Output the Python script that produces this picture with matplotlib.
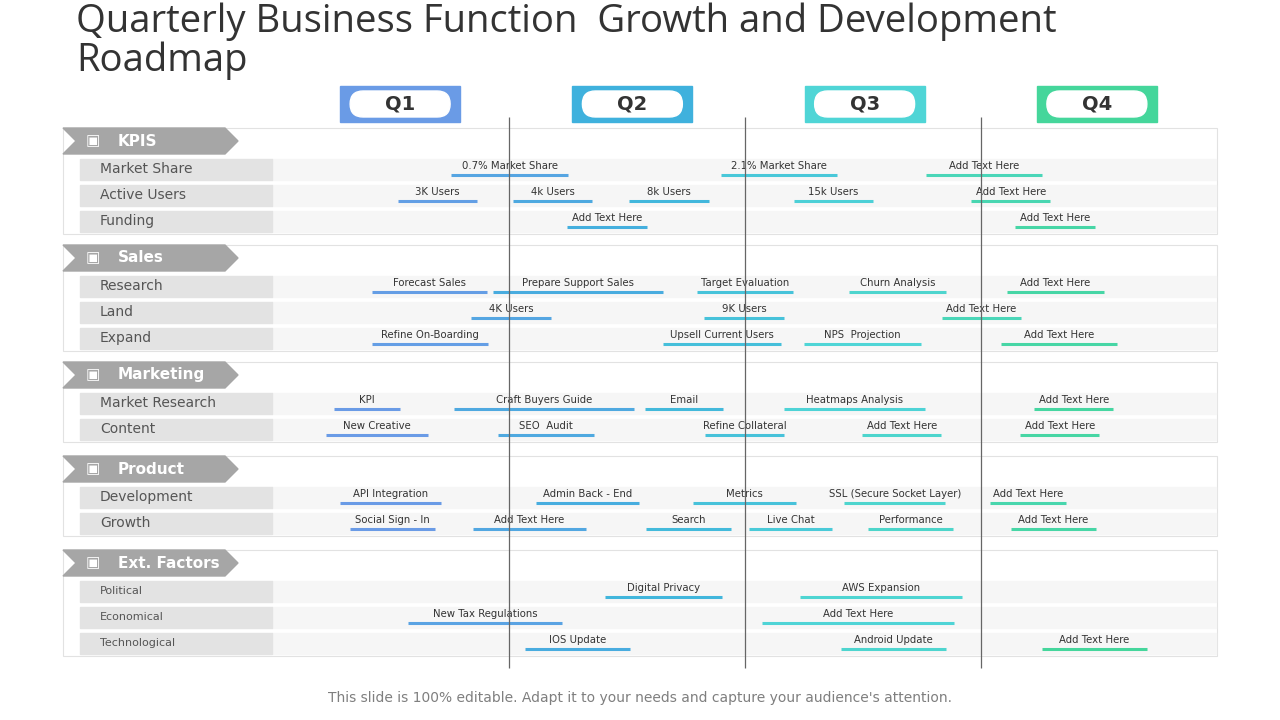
import matplotlib.pyplot as plt
from matplotlib.patches import Rectangle, FancyBboxPatch, Polygon
import numpy as np

# Timeline data: months from start of year (Q1 = 0..3, etc.)
quarters = ["Q1", "Q2", "Q3", "Q4"]
quarter_colors = ["#6a9be6", "#3fb1dd", "#4fd5d6", "#45d69b"]
quarter_dividers = [2.9, 5.95, 9.0]

sections = ["KPIS", "Sales", "Marketing", "Product", "Ext. Factors"]
section_rows = [
    ["Market Share", "Active Users", "Funding"],
    ["Research", "Land", "Expand"],
    ["Market Research", "Content"],
    ["Development", "Growth"],
    ["Political", "Economical", "Technological"],
]

# (row name, label, start month, end month)
kpi_tasks = [
    ("Market Share", "0.7% Market Share", 2.16, 3.67),
    ("Market Share", "2.1% Market Share", 5.65, 7.14),
    ("Market Share", "Add Text Here", 8.29, 9.79),
    ("Active Users", "3K Users", 1.47, 2.49),
    ("Active Users", "4k Users", 2.96, 3.98),
    ("Active Users", "8k Users", 4.46, 5.49),
    ("Active Users", "15k Users", 6.59, 7.61),
    ("Active Users", "Add Text Here", 8.88, 9.90),
    ("Funding", "Add Text Here", 3.66, 4.69),
    ("Funding", "Add Text Here", 9.44, 10.47),
]
sales_tasks = [
    ("Research", "Forecast Sales", 1.14, 2.62),
    ("Research", "Prepare Support Sales", 2.70, 4.90),
    ("Research", "Target Evaluation", 5.34, 6.58),
    ("Research", "Churn Analysis", 7.30, 8.55),
    ("Research", "Add Text Here", 9.34, 10.59),
    ("Land", "4K Users", 2.42, 3.45),
    ("Land", "9K Users", 5.43, 6.46),
    ("Land", "Add Text Here", 8.50, 9.52),
    ("Expand", "Refine On-Boarding", 1.14, 2.64),
    ("Expand", "Upsell Current Users", 4.90, 6.42),
    ("Expand", "NPS  Projection", 6.72, 8.23),
    ("Expand", "Add Text Here", 9.26, 10.76),
]
marketing_tasks = [
    ("Market Research", "KPI", 0.65, 1.50),
    ("Market Research", "Craft Buyers Guide", 2.20, 4.52),
    ("Market Research", "Email", 4.66, 5.67),
    ("Market Research", "Heatmaps Analysis", 6.46, 8.28),
    ("Market Research", "Add Text Here", 9.69, 10.71),
    ("Content", "New Creative", 0.54, 1.86),
    ("Content", "SEO  Audit", 2.76, 4.01),
    ("Content", "Refine Collateral", 5.44, 6.46),
    ("Content", "Add Text Here", 7.47, 8.49),
    ("Content", "Add Text Here", 9.51, 10.53),
]
product_tasks = [
    ("Development", "API Integration", 0.72, 2.03),
    ("Development", "Admin Back - End", 3.26, 4.59),
    ("Development", "Metrics", 5.28, 6.61),
    ("Development", "SSL (Secure Socket Layer)", 7.24, 8.54),
    ("Development", "Add Text Here", 9.12, 10.10),
    ("Growth", "Social Sign - In", 0.85, 1.95),
    ("Growth", "Add Text Here", 2.44, 3.90),
    ("Growth", "Search", 4.68, 5.78),
    ("Growth", "Live Chat", 6.01, 7.08),
    ("Growth", "Performance", 7.55, 8.64),
    ("Growth", "Add Text Here", 9.39, 10.49),
]
ext_tasks = [
    ("Political", "Digital Privacy", 4.15, 5.66),
    ("Political", "AWS Expansion", 6.67, 8.76),
    ("Economical", "New Tax Regulations", 1.60, 3.59),
    ("Economical", "Add Text Here", 6.18, 8.66),
    ("Technological", "IOS Update", 3.11, 4.47),
    ("Technological", "Android Update", 7.20, 8.55),
    ("Technological", "Add Text Here", 9.79, 11.15),
]
all_tasks = [kpi_tasks, sales_tasks, marketing_tasks, product_tasks, ext_tasks]

# layout (pixels)
section_top = [128, 245, 362, 456, 550]
row_gap = 26
TL_LEFT, TL_RIGHT = 284, 1213

fig = plt.figure(figsize=(12.8, 7.2), dpi=100)
ax = fig.add_axes([0, 0, 1, 1])
ax.set_xlim(0, 1280)
ax.set_ylim(720, 0)
ax.axis("off")

# timeline axes in months
tl = fig.add_axes([TL_LEFT / 1280, 0, (TL_RIGHT - TL_LEFT) / 1280, 1])
tl.set_xlim(0, 12)
tl.set_ylim(720, 0)
tl.axis("off")
tl.patch.set_alpha(0)


def bar_color(m):
    centers = [1.5, 4.5, 7.5, 10.5]
    rgb = np.array([[int(c[i:i + 2], 16) / 255 for i in (1, 3, 5)] for c in quarter_colors])
    return tuple(np.interp(m, centers, rgb[:, k]) for k in range(3))


ax.text(76, 22, "Quarterly Business Function  Growth and Development", fontsize=27.5,
        color="#333333", va="center", family="Open Sans")
ax.text(76, 61, "Roadmap", fontsize=27.5, color="#333333", va="center",
        family="Open Sans")

# quarter headers
for i, q in enumerate(quarters):
    cx = TL_LEFT + (i * 3 + 1.5) * (TL_RIGHT - TL_LEFT) / 12
    ax.add_patch(Rectangle((cx - 60, 86), 120, 36, color=quarter_colors[i], zorder=2))
    ax.add_patch(FancyBboxPatch((cx - 50, 91), 100, 26, boxstyle="round,pad=0,rounding_size=13",
                                color="white", zorder=3))
    ax.text(cx, 104, q, ha="center", va="center", fontsize=14, fontweight="bold",
            color="#333333", zorder=4)

for si, name in enumerate(sections):
    top = section_top[si]
    rows = section_rows[si]
    height = 28 + len(rows) * row_gap
    ax.add_patch(Rectangle((63, top), 1154, height, facecolor="white",
                           edgecolor="#e2e2e2", lw=0.8, zorder=1))
    ax.add_patch(Polygon([(63, top), (225, top), (238, top + 13), (225, top + 26),
                          (63, top + 26), (76, top + 13)], closed=True,
                         color="#a6a6a6", zorder=2))
    ax.text(118, top + 13, name, ha="left", va="center", fontsize=11,
            fontweight="bold", color="white", zorder=3)
    ax.text(93, top + 13, "\u25a3", ha="center", va="center", fontsize=11,
            color="white", zorder=3)
    small = si == 4
    row_y = {}
    for ri, r in enumerate(rows):
        y = top + 41 + ri * row_gap
        row_y[r] = y
        ax.add_patch(Rectangle((80, y - 10), 192, 21, color="#e3e3e3", zorder=2))
        ax.add_patch(Rectangle((272, y - 10), 944, 21, color="#f6f6f6", zorder=1.5))
        ax.text(100, y, r, ha="left", va="center", fontsize=8 if small else 10,
                color="#555555", zorder=3)
    for r, label, s, e in all_tasks[si]:
        y = row_y[r]
        tl.hlines(y + 6, s, e, color=bar_color((s + e) / 2), lw=2.2, zorder=4)
        tl.text((s + e) / 2, y - 3, label, ha="center", va="center", fontsize=7.3,
                color="#333333", zorder=5)

for d in quarter_dividers:
    tl.vlines(d, 117, 668, color="#666666", lw=0.9, zorder=6)

ax.text(640, 698, "This slide is 100% editable. Adapt it to your needs and capture your audience's attention.",
        ha="center", va="center", fontsize=10, color="#7f7f7f")

fig.savefig("out.png", dpi=100)
